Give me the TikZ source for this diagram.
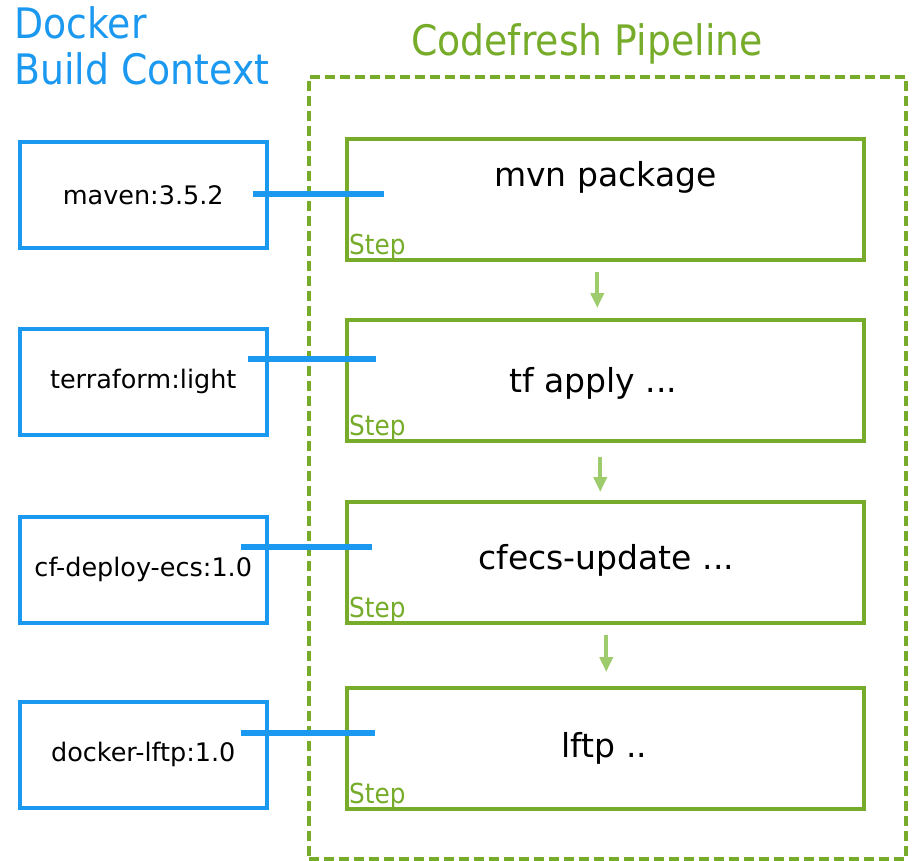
\documentclass[tikz,border=0pt]{standalone}
\usepackage{fontspec}
\setmainfont{DejaVu Sans}
\newfontfamily\condfont[FakeStretch=0.9]{DejaVu Sans}
\usetikzlibrary{arrows.meta}

\definecolor{dockerblue}{RGB}{27,152,240}
\definecolor{cfgreen}{RGB}{118,172,42}
\definecolor{flowgreen}{RGB}{158,204,108}

\tikzset{
  imgbox/.style={draw=dockerblue, line width=3.5pt, minimum width=247pt, minimum height=106pt, anchor=north west, font=\fontsize{25.5}{30}\selectfont},
  stepbox/.style={draw=cfgreen, line width=3.5pt, minimum width=517pt, minimum height=121pt, anchor=north west},
  steplabel/.style={text=cfgreen, inner sep=0pt, anchor=base west, font=\condfont\fontsize{27.5}{30}\selectfont},
  steptext/.style={font=\fontsize{33}{40}\selectfont},
  link/.style={draw=dockerblue, line width=6.5pt},
  flow/.style={draw=flowgreen, line width=4pt, -{Triangle[length=15pt,width=13pt]}},
}

\begin{document}
\begin{tikzpicture}[x=1pt,y=1pt]
    \useasboundingbox (0,0) rectangle (912,-860);

    % Überschriften
    \node[anchor=north west, align=left, inner sep=0pt, text=dockerblue, font=\condfont\fontsize{42}{46}\selectfont] (ctxtitle) at (14,-6) {Docker\\Build Context};
    \node[anchor=base, inner sep=0pt, text=cfgreen, font=\condfont\fontsize{42}{46}\selectfont] (pipetitle) at (587,-55) {Codefresh Pipeline};

    % Gestricheltes Rechteck der Pipeline
    \node[draw=cfgreen, line width=3.5pt, dash pattern=on 10pt off 5pt, minimum width=597pt, minimum height=782pt, anchor=north west] (pipe) at (307,-75) {};

    % Images links
    \node[imgbox] (img1) at (18,-140) {maven:3.5.2};
    \node[imgbox] (img2) at (18,-327) {terraform:light};
    \node[imgbox] (img3) at (18,-515) {cf-deploy-ecs:1.0};
    \node[imgbox] (img4) at (18,-700) {docker-lftp:1.0};

    % Steps rechts
    \node[stepbox] (step1) at (345,-137) {};
    \node[steptext] at ([yshift=22pt]step1.center) {mvn package};
    \node[steplabel] at ([xshift=4pt,yshift=7pt]step1.south west) {Step};

    \node[stepbox] (step2) at (345,-318) {};
    \node[steptext] at ([xshift=-12pt,yshift=-3pt]step2.center) {tf apply ...};
    \node[steplabel] at ([xshift=4pt,yshift=7pt]step2.south west) {Step};

    \node[stepbox] (step3) at (345,-500) {};
    \node[steptext] at ([xshift=1pt,yshift=2pt]step3.center) {cfecs-update ...};
    \node[steplabel] at ([xshift=4pt,yshift=7pt]step3.south west) {Step};

    \node[stepbox] (step4) at (345,-686) {};
    \node[steptext] at ([xshift=-1pt]step4.center) {lftp ..};
    \node[steplabel] at ([xshift=4pt,yshift=7pt]step4.south west) {Step};

    % Verbindungen Image -> Step
    \draw[link] ([xshift=-16pt,yshift=1pt]img1.east) -- ++(131pt,0);
    \draw[link] ([xshift=-21pt,yshift=23pt]img2.east) -- ++(128pt,0);
    \draw[link] ([xshift=-28pt,yshift=23pt]img3.east) -- ++(131pt,0);
    \draw[link] ([xshift=-28pt,yshift=22pt]img4.east) -- ++(134pt,0);

    % Reihenfolge der Steps
    \draw[flow] ([xshift=-8pt,yshift=-10pt]step1.south) -- ([xshift=-8pt,yshift=10pt]step2.north);
    \draw[flow] ([xshift=-5pt,yshift=-14pt]step2.south) -- ([xshift=-5pt,yshift=8pt]step3.north);
    \draw[flow] ([xshift=1pt,yshift=-10pt]step3.south) -- ([xshift=1pt,yshift=14pt]step4.north);
\end{tikzpicture}
\end{document}
